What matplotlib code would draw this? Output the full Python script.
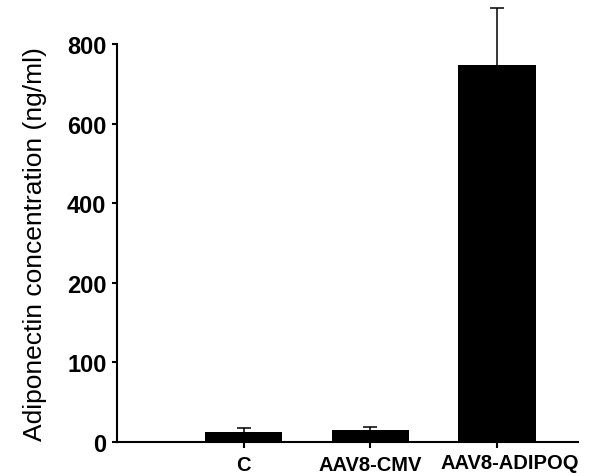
import matplotlib
matplotlib.use('Agg')
import matplotlib.pyplot as plt
import numpy as np

groups = ['C', 'AAV8-CMV', 'AAV8-ADIPOQ']
means = [13, 15, 746]
errors = [4, 4, 145]
y_ticks = [0, 100, 200, 400, 600, 800]

plt.rcParams['font.family'] = ['Liberation Sans', 'DejaVu Sans']


# axis is split: 0-200 at 100 per step, 200-800 at 200 per step
def forward(v):
    v = np.asarray(v, dtype=float)
    return np.where(v <= 200, v / 100.0, 2 + (v - 200) / 200.0)


def inverse(u):
    u = np.asarray(u, dtype=float)
    return np.where(u <= 2, u * 100.0, 200 + (u - 2) * 200.0)


def plot_adiponectin():
    fig = plt.figure(figsize=(5.96, 4.77), dpi=100)
    ax = fig.add_axes([0.196, 0.0713, 0.774, 0.8344])

    x = np.arange(1, len(groups) + 1)
    ax.bar(x, means, width=0.61, color='black', zorder=2)
    _, caps, _ = ax.errorbar(x, means, yerr=[np.zeros(len(errors)), errors], fmt='none',
                             ecolor='black', elinewidth=1.1, capsize=4.7, capthick=1.1,
                             clip_on=False, zorder=1)
    # only the upper cap is wanted
    caps[0].set_visible(False)

    ax.set_yscale('function', functions=(forward, inverse))
    ax.set_ylim(0, 800)
    ax.set_xlim(0, 3.64)
    ax.set_yticks(y_ticks)
    ax.set_yticklabels([str(t) for t in y_ticks], fontsize=17, fontweight='bold')
    ax.set_xticks(x)
    # last label sits a little right of its tick in the original, so it is drawn by hand
    ax.set_xticklabels(groups[:-1] + [''], fontsize=14.5, fontweight='bold')
    ax.annotate(groups[-1], xy=(x[-1], 0), xycoords=('data', 'axes fraction'),
                xytext=(9, -8), textcoords='offset points', ha='center', va='top',
                fontsize=14.5, fontweight='bold', annotation_clip=False)
    ax.yaxis.set_minor_locator(plt.NullLocator())

    ax.set_ylabel('Adiponectin concentration (ng/ml)', fontsize=19, labelpad=14)

    for side in ['top', 'right']:
        ax.spines[side].set_visible(False)
    for side in ['left', 'bottom']:
        ax.spines[side].set_linewidth(1.5)

    ax.tick_params(axis='y', length=3.5, width=1.5, pad=4)
    ax.tick_params(axis='x', length=4.5, width=1.5, pad=5)

    fig.savefig('out.png', dpi=100)
    print("Saved out.png")


if __name__ == "__main__":
    plot_adiponectin()
